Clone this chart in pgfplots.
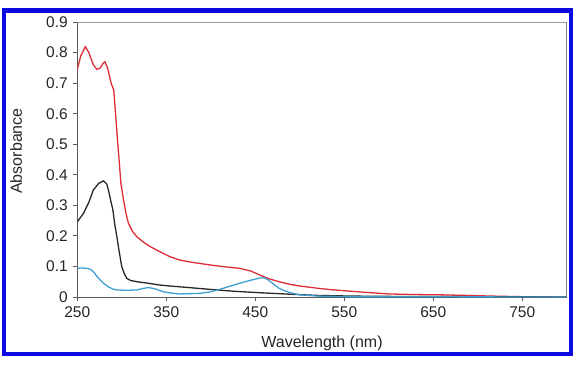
\documentclass[border=0pt]{standalone}
\usepackage{pgfplots}
\pgfplotsset{compat=1.18}
\usepackage{fontspec}
\setmainfont{Liberation Sans}
\definecolor{cred}{RGB}{222,45,55}
\definecolor{cblack}{RGB}{40,40,40}
\definecolor{cblue}{RGB}{60,160,210}
\definecolor{frameblue}{RGB}{10,10,225}
\definecolor{axgray}{RGB}{90,90,90}
\begin{document}
\begin{tikzpicture}[x=1pt,y=1pt]
\path[use as bounding box] (0,0) rectangle (588,378);
\draw[line width=4.5pt, frameblue] (4,24) rectangle (571,367.5);
\begin{axis}[
  at={(77.3pt,81pt)}, anchor=south west,
  scale only axis, width=489.4pt, height=275pt,
  xmin=250, xmax=800, ymin=0, ymax=0.9,
  xtick={250,350,450,550,650,750},
  ytick={0,0.1,0.2,0.3,0.4,0.5,0.6,0.7,0.8,0.9},
  yticklabel style={/pgf/number format/fixed, /pgf/number format/precision=1},
  /pgf/number format/assume math mode=true,
  tick pos=left, tick align=outside, major tick length=4pt,
  every tick/.style={axgray, line width=0.8pt},
  axis line style={axgray, line width=0.9pt},
  tick label style={font=\fontsize{15.5}{18}\selectfont, text=black!85},
  xticklabel style={yshift=-2pt},
  yticklabel style={xshift=-2pt},
  xlabel={Wavelength (nm)}, ylabel={Absorbance},
  label style={font=\fontsize{16}{19}\selectfont, text=black!85},
  xlabel style={at={(rel axis cs:0.5,-0.167)}, anchor=center},
  ylabel style={at={(rel axis cs:-0.125,0.531)}, anchor=center},
  clip=true,
]
\draw[gray!80, line width=2pt] (rel axis cs:0,1) -- (rel axis cs:1,1) -- (rel axis cs:1,0);
\addplot[cred, line width=1.3pt] coordinates {
(250,0.745) (254,0.79) (259,0.819) (263,0.80) (268,0.76) (272,0.745) (276,0.75) (279,0.765) (281,0.77) (284,0.75) (288,0.70) (291,0.677) (293,0.60) (295,0.52) (297,0.448) (299,0.372) (302,0.317) (305,0.27) (307.5,0.241) (312,0.215) (317,0.197) (325,0.178) (332,0.165) (343,0.148) (354,0.132) (365,0.121) (380,0.113) (399,0.105) (415,0.099) (432,0.094) (445,0.085) (455,0.072) (465,0.06) (477,0.050) (488,0.042) (500,0.036) (511,0.032) (522,0.028) (535,0.024) (548,0.021) (575,0.015) (600,0.010) (630,0.008) (660,0.007) (690,0.005) (716,0.003) (750,0.001) (800,0.0)
};
\addplot[cblack, line width=1.3pt] coordinates {
(250,0.246) (257,0.274) (263,0.31) (268,0.35) (274,0.372) (279.5,0.38) (283,0.37) (285,0.35) (288,0.31) (290,0.285) (292,0.24) (294.5,0.197) (297,0.15) (300,0.099) (303,0.075) (305.6,0.061) (310,0.054) (317,0.050) (330,0.045) (343,0.039) (354,0.036) (375,0.031) (399,0.025) (425,0.019) (455,0.014) (490,0.009) (522,0.005) (560,0.003) (600,0.002) (700,0.001) (800,0.0)
};
\addplot[cblue, line width=1.3pt] coordinates {
(250,0.094) (255,0.095) (260.5,0.094) (265,0.09) (268,0.083) (272,0.068) (276,0.055) (279.5,0.045) (285,0.033) (290,0.026) (294.5,0.023) (305,0.022) (317,0.023) (324,0.028) (330,0.031) (337,0.027) (347,0.017) (355,0.013) (365,0.010) (388,0.012) (400,0.017) (410,0.025) (420,0.034) (432.5,0.045) (445,0.055) (455,0.062) (460,0.063) (465,0.055) (477,0.028) (488,0.015) (500,0.007) (520,0.003) (560,0.001) (800,0)
};
\end{axis}
\end{tikzpicture}
\end{document}
